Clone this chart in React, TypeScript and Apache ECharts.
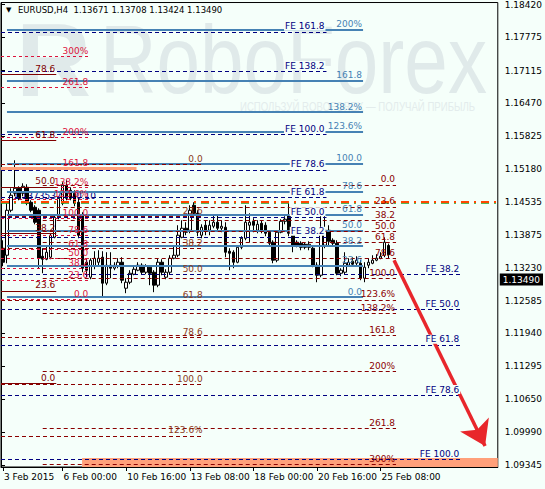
import React, { useEffect, useRef } from "react";
import * as echarts from "echarts";

const FONT = '"DejaVu Sans", sans-serif';
const BG = "#F5FFFA";
const WM = "#E0EAEA";

// ---------- header ----------
const symbolName = "EURUSD,H4";
const headerPrices = ["1.13671", "1.13708", "1.13424", "1.13490"];

// ---------- time axis ----------
const firstBarTime = Date.UTC(2015, 1, 3, 12, 0);
const totalBars = 125;
const xTickTimes = [
  "2015.02.03 12:00",
  "2015.02.06 00:00",
  "2015.02.10 16:00",
  "2015.02.13 08:00",
  "2015.02.18 00:00",
  "2015.02.20 16:00",
  "2015.02.25 08:00",
];
const xTickLabels = [
  "3 Feb 2015",
  "6 Feb 00:00",
  "10 Feb 16:00",
  "13 Feb 08:00",
  "18 Feb 00:00",
  "20 Feb 16:00",
  "25 Feb 08:00",
];

// ---------- price axis ----------
const yTickValues = [
  1.1842, 1.17775, 1.17115, 1.1647, 1.15825, 1.1518, 1.14535, 1.13875, 1.1323,
  1.12585, 1.1194, 1.11295, 1.1065, 1.0999, 1.09345,
];
const yMin = 1.09306;
const yMax = 1.18459;

// ---------- candles: [open, close, low, high] ----------
const candles: number[][] = [
  [1.13617, 1.13341, 1.13262, 1.13774],
  [1.13479, 1.14365, 1.13321, 1.14503],
  [1.14365, 1.14661, 1.14326, 1.14798],
  [1.147, 1.14798, 1.14641, 1.1535],
  [1.14798, 1.14601, 1.14562, 1.14838],
  [1.147, 1.14838, 1.14641, 1.14897],
  [1.14818, 1.14503, 1.14464, 1.14877],
  [1.14523, 1.14365, 1.14326, 1.14562],
  [1.14424, 1.14129, 1.14089, 1.14464],
  [1.14365, 1.1342, 1.13223, 1.14404],
  [1.13459, 1.134, 1.13124, 1.13617],
  [1.134, 1.13538, 1.13381, 1.13676],
  [1.1344, 1.13873, 1.134, 1.13912],
  [1.13833, 1.14227, 1.13813, 1.14267],
  [1.14227, 1.14601, 1.14188, 1.14641],
  [1.14503, 1.14858, 1.14464, 1.14917],
  [1.14858, 1.14601, 1.14562, 1.14956],
  [1.14759, 1.14601, 1.14562, 1.14818],
  [1.147, 1.14503, 1.14444, 1.14759],
  [1.14523, 1.13873, 1.13813, 1.14601],
  [1.14267, 1.13223, 1.13144, 1.14326],
  [1.13341, 1.13184, 1.13046, 1.1342],
  [1.13046, 1.13381, 1.13006, 1.1342],
  [1.13262, 1.1342, 1.13203, 1.13558],
  [1.13341, 1.1342, 1.13282, 1.13577],
  [1.1344, 1.12928, 1.12652, 1.13558],
  [1.12928, 1.13282, 1.12889, 1.13538],
  [1.13282, 1.13223, 1.13026, 1.13538],
  [1.13223, 1.13282, 1.13184, 1.13341],
  [1.13262, 1.13341, 1.13223, 1.1342],
  [1.13341, 1.12987, 1.12928, 1.1344],
  [1.12829, 1.12947, 1.12731, 1.13026],
  [1.12947, 1.13124, 1.12908, 1.13184],
  [1.13105, 1.13203, 1.13085, 1.13282],
  [1.13184, 1.13282, 1.13164, 1.13341],
  [1.13282, 1.13144, 1.13105, 1.13321],
  [1.13144, 1.13262, 1.13105, 1.13302],
  [1.13243, 1.13124, 1.12889, 1.13262],
  [1.13144, 1.12889, 1.12751, 1.13184],
  [1.12889, 1.13341, 1.12849, 1.1342],
  [1.13341, 1.13144, 1.13085, 1.134],
  [1.13046, 1.13144, 1.13006, 1.13203],
  [1.13144, 1.1342, 1.13105, 1.13479],
  [1.1342, 1.13479, 1.134, 1.13676],
  [1.13479, 1.13873, 1.1344, 1.1407],
  [1.13833, 1.14011, 1.13813, 1.14168],
  [1.14011, 1.13932, 1.13873, 1.14129],
  [1.13971, 1.14365, 1.13912, 1.14464],
  [1.14464, 1.14306, 1.14247, 1.14523],
  [1.14306, 1.13932, 1.13853, 1.14365],
  [1.13873, 1.1403, 1.13813, 1.14089],
  [1.1407, 1.13971, 1.13873, 1.14168],
  [1.13971, 1.1407, 1.13873, 1.14168],
  [1.1405, 1.14129, 1.14011, 1.14267],
  [1.14129, 1.14011, 1.13971, 1.14267],
  [1.14011, 1.1405, 1.13932, 1.14168],
  [1.1403, 1.13538, 1.1344, 1.14129],
  [1.13558, 1.13518, 1.13184, 1.13617],
  [1.13538, 1.13341, 1.13223, 1.13577],
  [1.13341, 1.13636, 1.13321, 1.13676],
  [1.13636, 1.13813, 1.13597, 1.13853],
  [1.13813, 1.14129, 1.13774, 1.14464],
  [1.1407, 1.14129, 1.13735, 1.14306],
  [1.14148, 1.1407, 1.13932, 1.14208],
  [1.13971, 1.14089, 1.13912, 1.14168],
  [1.14109, 1.13971, 1.13912, 1.14168],
  [1.1407, 1.13912, 1.13853, 1.14129],
  [1.13932, 1.13715, 1.13656, 1.13971],
  [1.13735, 1.13381, 1.13321, 1.13774],
  [1.13381, 1.13932, 1.13341, 1.13971],
  [1.13932, 1.14148, 1.13912, 1.14188],
  [1.14148, 1.14188, 1.14089, 1.14247],
  [1.14267, 1.13912, 1.13853, 1.14503],
  [1.13932, 1.13676, 1.13538, 1.13971],
  [1.13735, 1.13676, 1.13636, 1.13774],
  [1.13715, 1.13636, 1.13577, 1.13754],
  [1.13695, 1.13636, 1.13597, 1.13735],
  [1.13636, 1.13695, 1.13577, 1.13754],
  [1.13617, 1.13282, 1.13243, 1.13676],
  [1.13282, 1.13085, 1.12947, 1.13341],
  [1.13085, 1.14011, 1.13046, 1.14365],
  [1.13676, 1.13971, 1.13617, 1.14267],
  [1.13971, 1.13754, 1.13676, 1.1407],
  [1.13774, 1.13715, 1.13656, 1.13813],
  [1.13715, 1.13124, 1.13085, 1.13774],
  [1.13124, 1.13184, 1.13066, 1.13223],
  [1.13144, 1.13321, 1.13105, 1.13538],
  [1.13282, 1.13341, 1.13262, 1.1342],
  [1.13361, 1.13302, 1.13262, 1.1344],
  [1.13321, 1.13381, 1.13282, 1.13459],
  [1.13321, 1.13026, 1.12987, 1.13381],
  [1.13026, 1.13243, 1.12947, 1.13341],
  [1.13282, 1.13341, 1.13223, 1.1342],
  [1.13321, 1.13381, 1.13302, 1.13479],
  [1.13381, 1.1342, 1.13361, 1.13499],
  [1.1342, 1.13459, 1.134, 1.13538],
  [1.13479, 1.13735, 1.1344, 1.13833],
  [1.13671, 1.1349, 1.13424, 1.13708],
];
const lastPrice = 1.1349;

// ---------- Fibonacci objects: labels, [price at 0%, price at 100%], [from bar, to bar] ----------
const blueLabels = ["0.0", "23.6", "38.2", "50.0", "61.8", "78.6", "100.0", "123.6%", "138.2%", "161.8", "200%"];
const blueAnchor = [1.12652, 1.1529];
const blueSpan = [1.5, 91.1];

const fe1Labels = ["FE 38.2", "FE 50.0", "FE 61.8", "FE 78.6", "FE 100.0", "FE 138.2", "FE 161.8"];
const fe1Anchor = [1.12593, 1.15861];
const fe1Span = [0, 81.9];

const fe2Labels = ["FE 38.2", "FE 50.0", "FE 61.8", "FE 78.6", "FE 100.0"];
const fe2Anchor = [1.15357, 1.09463];
const fe2Span = [0, 115.8];

const crimsonLabels = ["0.0", "23.6", "38.2", "50.0", "61.8", "78.6", "100.0", "123.6%", "138.2%", "161.8", "200%", "261.8", "300%"];
const crimsonAnchor = [1.12613, 1.14207];
const crimsonSpan = [0, 22.2];

const midLabels = ["0.0", "23.6", "38.2", "50.0", "61.8", "78.6", "100.0", "123.6%", "138.2%"];
const midAnchor = [1.1527, 1.1094];
const midSpan = [0, 51.0];

const rightLabels = ["0.0", "23.6", "38.2", "50.0", "61.8", "78.6", "100.0", "123.6%", "138.2%", "161.8", "200%", "261.8", "300%"];
const rightAnchor = [1.14865, 1.1303];
const rightSpan = [10.5, 99.4];

const leftLabels = ["0.0", "23.6", "38.2", "50.0", "61.8", "78.6"];
const leftAnchor = [1.1095, 1.187];
const leftSpan = [0, 13.9];

const salmonLevel = 1.15192;
const salmonSpan = [0, 34.1];
const resistanceLevel = 1.1454;
const targetZone = [1.09306, 1.09483];
const targetSpan = [20.4, 125];
const arrowFrom = [98.9, 1.13381];
const arrowTo = [121.8, 1.0972];

function h4Times(start: number, count: number): string[] {
  const out: string[] = [];
  const p = (n: number) => String(n).padStart(2, "0");
  let t = start;
  while (out.length < count) {
    const d = new Date(t);
    const wd = d.getUTCDay();
    if (wd !== 0 && wd !== 6) {
      out.push(
        `${d.getUTCFullYear()}.${p(d.getUTCMonth() + 1)}.${p(d.getUTCDate())} ${p(d.getUTCHours())}:${p(d.getUTCMinutes())}`
      );
    }
    t += 4 * 3600 * 1000;
  }
  return out;
}

function levelLines(labels: string[], anchor: number[], span: number[], lineStyle: any, label: any) {
  return labels.map((text) => {
    const pct = parseFloat(text.replace(/[^0-9.]/g, "")) / 100;
    const price = anchor[0] + (anchor[1] - anchor[0]) * pct;
    return [
      { coord: [span[0], price], lineStyle, label: { ...label, formatter: text } },
      { coord: [span[1], price] },
    ];
  });
}

const dash = [4, 3];

export default function App() {
  const ref = useRef<HTMLDivElement>(null);
  useEffect(() => {
    if (!ref.current) return;
    const chart = echarts.init(ref.current, undefined, { renderer: "svg" });
    const barTimes = h4Times(firstBarTime, totalBars);
    const tickFn = (_i: number, v: string) => xTickTimes.indexOf(v) >= 0;

    const baseLabel = {
      show: true,
      position: "insideEndTop",
      distance: 1,
      fontSize: 9,
      fontFamily: FONT,
      padding: 0,
    };

    const blueStyle = { color: "#4682B4", width: 2, type: "solid" };
    const navyStyle = { color: "#000080", width: 1, type: dash };
    const darkRedStyle = { color: "#8B0000", width: 1, type: dash };
    const crimsonStyle = { color: "#DC143C", width: 1, type: [3, 3] };
    const leftStyle = { color: "#800000", width: 1, type: "solid" };

    const lowerLines = [
      ...levelLines(blueLabels, blueAnchor, blueSpan, blueStyle, { color: "#4682B4" }),
      ...levelLines(rightLabels, rightAnchor, rightSpan, darkRedStyle, { color: "#8B0000" }),
      ...levelLines(midLabels, midAnchor, midSpan, darkRedStyle, { color: "#8B3A1A" }),
      ...levelLines(crimsonLabels, crimsonAnchor, crimsonSpan, crimsonStyle, { color: "#DC143C" }),
      ...levelLines(leftLabels, leftAnchor, leftSpan, leftStyle, { color: "#800000" }),
      [
        { coord: [salmonSpan[0], salmonLevel], lineStyle: { color: "#FFA07A", width: 3, type: "solid" }, label: { show: false } },
        { coord: [salmonSpan[1], salmonLevel] },
      ],
      [
        { coord: [0, resistanceLevel - 0.0003], lineStyle: { color: "#22A022", width: 1.5, type: [8, 5, 2, 5] }, label: { show: false } },
        { coord: [totalBars, resistanceLevel - 0.0003] },
      ],
      [
        { coord: [0, resistanceLevel], lineStyle: { color: "#FF4500", width: 2, type: [8, 5, 2, 5] }, label: { show: false } },
        { coord: [totalBars, resistanceLevel] },
      ],
    ];

    const feLabel = { color: "#000080", backgroundColor: BG, padding: [0, 1, 0, 1] };
    const upperLines = [
      ...levelLines(fe1Labels, fe1Anchor, fe1Span, navyStyle, feLabel),
      ...levelLines(fe2Labels, fe2Anchor, fe2Span, navyStyle, feLabel),
    ];

    const option: any = {
      animation: false,
      backgroundColor: BG,
      grid: {
        left: 1,
        right: 42,
        top: 2,
        bottom: 22,
        show: true,
        borderColor: "#000",
        borderWidth: 1,
        backgroundColor: "transparent",
      },
      xAxis: [
        {
          type: "category",
          data: barTimes,
          boundaryGap: true,
          axisLine: { show: true, lineStyle: { color: "#000" } },
          axisTick: { show: true, alignWithLabel: true, interval: tickFn, length: 4, lineStyle: { color: "#000" } },
          axisLabel: {
            interval: tickFn,
            formatter: (v: string) => xTickLabels[xTickTimes.indexOf(v)] ?? "",
            align: "left",
            color: "#000",
            fontSize: 9,
            fontFamily: FONT,
            margin: 5,
            padding: [0, 0, 0, 1],
          },
          splitLine: { show: false },
        },
        { type: "value", min: 0, max: totalBars, show: false },
      ],
      yAxis: {
        type: "value",
        position: "right",
        min: yMin,
        max: yMax,
        axisLine: { show: true, lineStyle: { color: "#000" } },
        axisTick: { show: true, length: 4, customValues: yTickValues, lineStyle: { color: "#000" } },
        axisLabel: {
          customValues: yTickValues,
          formatter: (v: number) => v.toFixed(5),
          color: "#000",
          fontSize: 9,
          fontFamily: FONT,
          margin: 7,
        },
        splitLine: { show: false },
      },
      graphic: [
        {
          type: "text", x: 16, y: 60, z: 0, silent: true,
          style: { text: "R", fill: WM, font: 'bold 104px "Liberation Sans"', verticalAlign: "middle" },
        },
        {
          type: "text", x: 100, y: 60, z: 0, scaleX: 0.815, silent: true,
          style: { text: "RoboForex", fill: WM, font: '96px "Liberation Sans"', verticalAlign: "middle" },
        },
        {
          type: "text", x: 240, y: 106, z: 0, scaleX: 0.74, silent: true,
          style: { text: "ИСПОЛЬЗУЙ ROBOFOREX — ПОЛУЧАЙ ПРИБЫЛЬ", fill: "#E3ECEC", font: '13px "Liberation Sans"', verticalAlign: "middle" },
        },
        {
          type: "text", x: 6, y: 10, z: 10, silent: true,
          style: { text: "▼", fill: "#000", font: '7px "DejaVu Sans"', verticalAlign: "middle" },
        },
        {
          type: "text", x: 18, y: 10, z: 10, silent: true,
          style: { text: symbolName + "  " + headerPrices.join(" "), fill: "#000", font: '8.5px "DejaVu Sans"', verticalAlign: "middle" },
        },
        {
          type: "text", x: 13, y: 196, z: 3, silent: true,
          style: { text: "1.1373537", fill: "#000080", font: '9px "DejaVu Sans"', verticalAlign: "middle" },
        },
        {
          type: "text", x: 76, y: 196, z: 3, silent: true,
          style: { text: "0.10", fill: "#000080", font: '9px "DejaVu Sans"', verticalAlign: "middle" },
        },
      ],
      series: [
        {
          type: "line",
          xAxisIndex: 1,
          data: [],
          z: 1,
          silent: true,
          markArea: {
            silent: true,
            itemStyle: { color: "#FFA07A" },
            data: [[{ coord: [targetSpan[0], targetZone[0]] }, { coord: [targetSpan[1], targetZone[1]] }]],
          },
        },
        {
          type: "line",
          xAxisIndex: 1,
          data: [],
          z: 2,
          silent: true,
          markLine: { silent: true, symbol: "none", label: baseLabel, emphasis: { disabled: true }, data: lowerLines },
        },
        {
          type: "line",
          xAxisIndex: 1,
          data: [],
          z: 3,
          silent: true,
          markLine: { silent: true, symbol: "none", label: baseLabel, emphasis: { disabled: true }, data: upperLines },
        },
        {
          type: "candlestick",
          xAxisIndex: 0,
          data: candles,
          z: 4,
          barWidth: 3,
          silent: true,
          itemStyle: { color: "#FFFFFF", color0: "#000000", borderColor: "#000000", borderColor0: "#000000", borderWidth: 1 },
          markLine: {
            silent: true,
            symbol: "none",
            lineStyle: { color: "transparent", width: 0 },
            label: {
              show: true,
              position: "end",
              distance: 2,
              formatter: lastPrice.toFixed(5),
              color: "#FFFFFF",
              backgroundColor: "#000000",
              padding: [2, 3, 1, 3],
              fontSize: 9,
              fontFamily: FONT,
            },
            data: [{ yAxis: lastPrice }],
          },
        },
        {
          type: "line",
          xAxisIndex: 1,
          data: [],
          z: 5,
          silent: true,
          markLine: {
            silent: true,
            symbol: ["none", "arrow"],
            symbolSize: 24,
            label: { show: false },
            lineStyle: { color: "#E8262B", width: 3.5, type: "solid" },
            data: [[{ coord: arrowFrom }, { coord: arrowTo }]],
          },
        },
      ],
    };
    chart.setOption(option);
    return () => chart.dispose();
  }, []);
  return <div ref={ref} style={{ position: "fixed", left: 0, top: 0, width: 545, height: 489 }} />;
}
